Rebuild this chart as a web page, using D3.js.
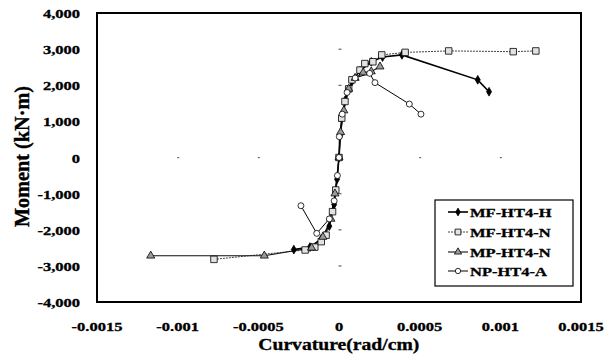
<!DOCTYPE html>
<html><head><meta charset="utf-8">
<script src="https://cdn.jsdelivr.net/npm/d3@7"></script>
<style>body{margin:0;background:#fff}svg{display:block}text{font-family:"Liberation Serif","Times New Roman",serif;font-weight:bold;fill:#000;stroke:#000;stroke-width:0.3px}</style>
</head><body>
<svg id="c" width="614" height="363"></svg>
<script>
const xTicks = [-0.0015,-0.001,-0.0005,0,0.0005,0.001,0.0015];
const xTickLabels = ["-0.0015","-0.001","-0.0005","0","0.0005","0.001","0.0015"];
const yTicks = [4000,3000,2000,1000,0,-1000,-2000,-3000,-4000];
const yTickLabels = ["4,000","3,000","2,000","1,000","0","-1,000","-2,000","-3,000","-4,000"];
const seriesNames = ["MF-HT4-H","MF-HT4-N","MP-HT4-N","NP-HT4-A"];

const mfH = [[-0.00028,-2550],[-0.00018,-2480],[-0.00011,-2250],[-0.00006,-1900],[-0.00003,-1300],[-0.000012,-600],[0,0],[0.000008,600],[0.00002,1100],[0.00004,1600],[0.00008,2100],[0.00013,2400],[0.0002,2650],[0.00027,2780],[0.00039,2840],[0.00086,2150],[0.00093,1820]];
const mfN = [[-0.000775,-2820],[-0.00021,-2560],[-0.00015,-2480],[-0.00011,-2330],[-0.00008,-2150],[-0.00004,-1500],[-0.00002,-900],[0,0],[0.000017,1090],[0.000037,1550],[0.00006,1900],[0.00008,2150],[0.00013,2420],[0.00016,2600],[0.00021,2650],[0.000265,2840],[0.00041,2910],[0.00068,2950],[0.00108,2930],[0.00122,2950]];
const mpN = [[-0.001167,-2720],[-0.000463,-2720],[-0.00017,-2500],[-0.0001,-2200],[-0.00005,-1700],[-0.000025,-1000],[0,0],[0.00001,700],[0.00003,1300],[0.00006,1900],[0.0001,2200],[0.00015,2350],[0.0002,2380],[0.000254,2515]];
const npA = [[-0.000236,-1335],[-0.000138,-2100],[-0.00006,-1700],[-0.00003,-1200],[-0.00001,-500],[0,0],[0.000002,576],[0.00002,1200],[0.00005,1800],[0.0001,2200],[0.00019,2330],[0.000223,2072],[0.000436,1480],[0.000508,1200]];

const svg = d3.select("#c");
const L=97,R=581,T=13,B=302;
const x = d3.scaleLinear().domain([-0.0015,0.0015]).range([L,R]);
const y = d3.scaleLinear().domain([-4000,4000]).range([B,T]);
const SX = 1.32;

// faint tick remnants along zero axes
xTicks.forEach(v=>{ if(v!==-0.0015&&v!==0.0015) svg.append("rect").attr("x",x(v)-0.5).attr("y",y(0)-0.5).attr("width",2).attr("height",1.2).attr("fill","#666"); });
yTicks.forEach(v=>{ if(Math.abs(v)!==4000&&v!==0) svg.append("rect").attr("x",x(0)-0.5).attr("y",y(v)-0.5).attr("width",3).attr("height",1.2).attr("fill","#666"); });

// border
svg.append("rect").attr("x",L).attr("y",T).attr("width",R-L).attr("height",B-T).attr("fill","none").attr("stroke","#000").attr("stroke-width",2);

// y tick labels
yTicks.forEach((v,i)=>{
  svg.append("text").attr("transform",`translate(80,${y(v)+5}) scale(${SX},1)`).attr("text-anchor","end").attr("font-size",12.5).text(yTickLabels[i]);
});
// x tick labels
xTicks.forEach((v,i)=>{
  svg.append("text").attr("transform",`translate(${x(v)},331) scale(${SX},1)`).attr("text-anchor","middle").attr("font-size",12.5).text(xTickLabels[i]);
});
// axis titles
svg.append("text").attr("x",338.8).attr("y",349.5).attr("text-anchor","middle").attr("font-size",16).attr("textLength",161).attr("lengthAdjust","spacingAndGlyphs").text("Curvature(rad/cm)");
svg.append("text").attr("transform","translate(29,156.5) rotate(-90) scale(1,1.3)").attr("x",0).attr("y",0).attr("text-anchor","middle").attr("font-size",16.5).attr("textLength",141).attr("lengthAdjust","spacingAndGlyphs").text("Moment (kN·m)");

const line = d3.line().x(d=>x(d[0])).y(d=>y(d[1]));
const styles = [
  {data:mfH, stroke:"#000", sw:1.6, dash:null, shape:d3.symbolDiamond, size:22, fill:"#000"},
  {data:mfN, stroke:"#444", sw:1, dash:"2,1", shape:d3.symbolSquare, size:42, fill:"#e2e2e2"},
  {data:mpN, stroke:"#111", sw:1.1, dash:null, shape:d3.symbolTriangle, size:28, fill:"#9a9a9a"},
  {data:npA, stroke:"#000", sw:1, dash:null, shape:d3.symbolCircle, size:28, fill:"#fff"}
];
const plot = svg.append("g");
styles.forEach(s=>{
  const p = plot.append("path").datum(s.data).attr("d",line).attr("fill","none").attr("stroke",s.stroke).attr("stroke-width",s.sw);
  if(s.dash) p.attr("stroke-dasharray",s.dash);
});
styles.forEach(s=>{
  plot.selectAll(null).data(s.data).enter().append("path")
    .attr("d",d3.symbol().type(s.shape).size(s.size))
    .attr("transform",d=>`translate(${x(d[0])},${y(d[1])})`)
    .attr("fill",s.fill).attr("stroke","#000").attr("stroke-width",0.8);
});

// legend
const lg = svg.append("g");
lg.append("rect").attr("x",435).attr("y",200).attr("width",138).attr("height",86).attr("fill","#fff").attr("stroke","#000").attr("stroke-width",1.2);
const rowY = [212,232,252,271];
styles.forEach((s,i)=>{
  const ly = rowY[i];
  const p = lg.append("line").attr("x1",448).attr("x2",468).attr("y1",ly).attr("y2",ly).attr("stroke",s.stroke).attr("stroke-width",s.sw);
  if(s.dash) p.attr("stroke-dasharray",s.dash);
  lg.append("path").attr("d",d3.symbol().type(s.shape).size(s.size*0.8)).attr("transform",`translate(458,${ly})`).attr("fill",s.fill).attr("stroke","#000").attr("stroke-width",0.8);
  lg.append("text").attr("transform",`translate(470,${ly+4.5}) scale(${SX},1)`).attr("font-size",12.5).text(seriesNames[i]);
});
</script>
</body></html>
